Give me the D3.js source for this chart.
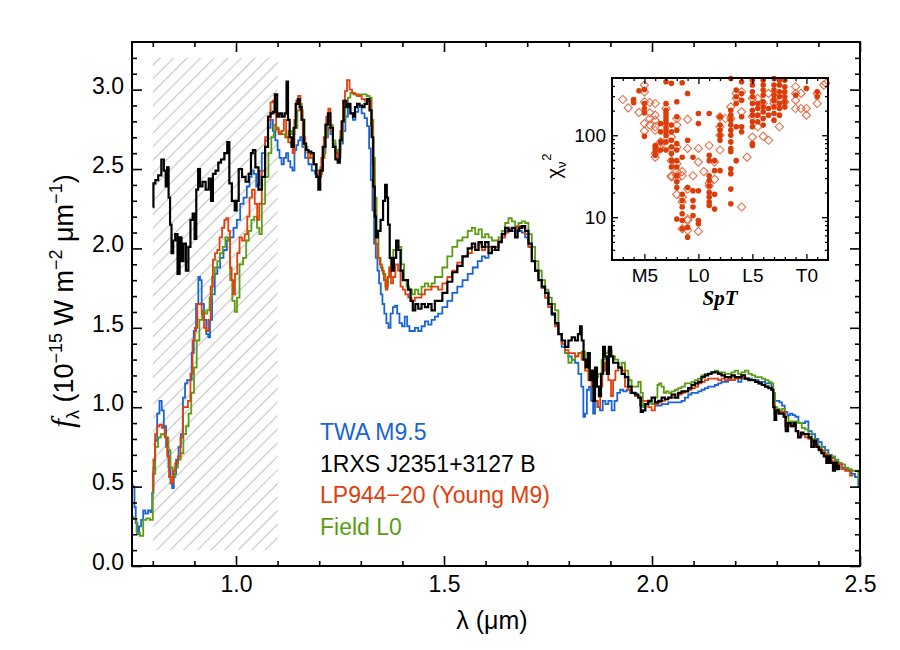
<!DOCTYPE html>
<html><head><meta charset="utf-8">
<script src="https://cdn.jsdelivr.net/npm/d3@7"></script>
<style>body{margin:0;background:#fff}svg{display:block}</style>
</head><body><svg id="c" width="900" height="650"></svg>
<script>
// ---------------- DATA ----------------
const xDomain = [0.75, 2.5];
const yDomain = [0, 3.3];
const xMajorTicks = [1.0, 1.5, 2.0, 2.5];
const yMajorTicks = [0.0, 0.5, 1.0, 1.5, 2.0, 2.5, 3.0];
const hatchX = [0.8, 1.1];
const hatchY = [0.1, 3.2];

const seriesNames = ["TWA M9.5", "1RXS J2351+3127 B", "LP944\u221220 (Young M9)", "Field L0"];
const seriesColors = ["#1a64d4", "#000000", "#e0400c", "#5a9c12"];

const twaM95 = [[0.749,0.51],[0.755,0.50],[0.757,0.37],[0.761,0.27],[0.765,0.20],[0.769,0.25],[0.775,0.29],[0.779,0.35],[0.785,0.33],[0.792,0.35],[0.797,0.34],[0.800,0.46],[0.803,0.62],[0.808,0.79],[0.813,0.96],[0.819,1.04],[0.824,0.98],[0.829,0.88],[0.835,0.75],[0.840,0.62],[0.845,0.52],[0.848,0.49],[0.853,0.58],[0.859,0.67],[0.865,0.75],[0.870,0.83],[0.875,1.06],[0.880,1.15],[0.885,1.17],[0.891,1.17],[0.896,1.34],[0.901,1.48],[0.907,1.65],[0.912,1.82],[0.915,1.80],[0.920,1.65],[0.926,1.55],[0.931,1.46],[0.936,1.44],[0.939,1.55],[0.946,1.71],[0.952,1.84],[0.958,1.88],[0.966,1.94],[0.974,1.99],[0.982,2.05],[0.990,2.07],[0.998,2.13],[1.006,2.18],[1.014,2.28],[1.022,2.32],[1.030,2.39],[1.035,2.45],[1.040,2.49],[1.046,2.47],[1.051,2.39],[1.055,2.40],
[1.058,2.49],[1.066,2.60],[1.074,2.68],[1.080,2.76],[1.086,2.81],[1.091,2.74],[1.098,2.68],[1.102,2.62],[1.107,2.57],[1.112,2.53],[1.118,2.57],[1.123,2.60],[1.128,2.55],[1.133,2.51],[1.138,2.49],[1.143,2.62],[1.147,2.65],[1.152,2.68],[1.157,2.70],[1.162,2.64],[1.170,2.57],[1.178,2.53],[1.186,2.49],[1.194,2.47],[1.200,2.45],[1.206,2.51],[1.212,2.60],[1.218,2.70],[1.224,2.76],[1.230,2.72],[1.236,2.66],[1.242,2.60],[1.248,2.57],[1.254,2.66],[1.260,2.74],[1.266,2.83],[1.272,2.89],[1.278,2.85],[1.284,2.81],[1.290,2.86],[1.298,2.89],[1.306,2.85],[1.312,2.82],[1.318,2.77],[1.322,2.63],[1.326,2.43],[1.330,2.24],[1.334,2.03],[1.338,1.94],[1.342,1.86],[1.346,1.78],[1.350,1.71],[1.354,1.65],[1.359,1.59],[1.364,1.53],[1.369,1.50],[1.374,1.59],[1.380,1.63],[1.385,1.64],[1.390,1.59],[1.396,1.53],[1.402,1.51],[1.409,1.57],[1.414,1.51],[1.420,1.48],[1.426,1.48],[1.434,1.50],[1.442,1.48],[1.450,1.51],[1.458,1.54],[1.466,1.52],[1.474,1.55],[1.482,1.57],
[1.490,1.59],[1.502,1.63],[1.514,1.67],[1.526,1.72],[1.538,1.76],[1.551,1.80],[1.563,1.84],[1.575,1.88],[1.587,1.92],[1.595,1.95],[1.603,1.94],[1.611,1.97],[1.619,1.99],[1.627,2.01],[1.635,2.04],[1.643,2.07],[1.651,2.11],[1.659,2.12],[1.667,2.11],[1.675,2.12],[1.683,2.11],[1.691,2.10],[1.699,2.07],[1.707,2.01],[1.715,1.92],[1.723,1.86],[1.731,1.80],[1.739,1.75],[1.747,1.69],[1.755,1.63],[1.763,1.58],[1.771,1.52],[1.779,1.46],[1.787,1.38],[1.795,1.34],[1.803,1.32],[1.811,1.30],[1.819,1.28],[1.827,1.21],[1.833,1.13],[1.837,0.94],[1.841,0.96],[1.846,1.11],[1.851,1.13],[1.856,1.04],[1.861,0.96],[1.865,1.04],[1.872,1.00],[1.878,0.98],[1.885,1.04],[1.891,1.02],[1.899,1.04],[1.907,0.98],[1.913,1.04],[1.920,1.09],[1.927,1.11],[1.935,1.10],[1.943,1.11],[1.951,1.09],[1.959,1.09],[1.967,1.07],
[1.975,1.01],[1.987,1.02],[1.995,1.03],[2.003,1.02],[2.011,1.01],[2.019,1.01],[2.027,1.02],[2.035,1.02],[2.043,1.03],[2.051,1.03],[2.059,1.03],[2.067,1.03],[2.075,1.04],[2.083,1.06],[2.091,1.08],[2.099,1.09],[2.107,1.09],[2.115,1.10],[2.123,1.11],[2.131,1.12],[2.139,1.13],[2.147,1.13],[2.155,1.14],[2.163,1.15],[2.171,1.16],[2.179,1.16],[2.187,1.17],[2.195,1.17],[2.203,1.19],[2.211,1.16],[2.219,1.18],[2.228,1.18],[2.236,1.18],[2.244,1.17],[2.252,1.17],[2.260,1.16],[2.268,1.16],[2.276,1.15],[2.284,1.15],[2.290,1.13],[2.293,1.09],[2.298,1.04],[2.304,1.04],[2.309,1.03],[2.316,1.01],[2.322,0.97],[2.329,0.95],[2.335,0.96],[2.341,0.95],[2.348,0.94],[2.356,0.90],[2.364,0.90],[2.372,0.91],[2.380,0.85],[2.388,0.83],[2.396,0.80],[2.404,0.78],[2.412,0.75],[2.420,0.73],[2.428,0.70],[2.436,0.68],[2.444,0.66],[2.452,0.65],[2.460,0.62],[2.468,0.61],[2.476,0.60],[2.484,0.58],[2.492,0.56],[2.500,0.50]];

const rxsJ2351 = [[0.800,2.26],[0.803,2.41],[0.809,2.43],[0.817,2.46],[0.824,2.56],[0.829,2.49],[0.833,2.39],[0.836,2.51],[0.840,2.32],[0.843,2.15],[0.847,1.97],[0.851,2.05],[0.857,2.09],[0.862,1.84],[0.867,2.07],[0.871,1.92],[0.876,2.03],[0.883,1.86],[0.888,2.01],[0.893,2.18],[0.899,2.22],[0.902,2.06],[0.907,2.37],[0.911,2.50],[0.916,2.39],[0.923,2.42],[0.931,2.37],[0.938,2.44],[0.942,2.30],[0.947,2.47],[0.955,2.49],[0.960,2.54],[0.968,2.56],[0.976,2.60],[0.982,2.67],[0.986,2.41],[0.994,2.30],[1.000,2.24],[1.003,2.30],[1.010,2.50],[1.019,2.45],[1.027,2.42],[1.034,2.47],[1.038,2.60],[1.043,2.62],[1.050,2.51],
[1.058,2.37],[1.066,2.45],[1.074,2.64],[1.080,2.83],[1.086,2.85],[1.091,2.86],[1.096,2.97],[1.102,2.83],[1.107,2.85],[1.114,2.83],[1.120,2.85],[1.123,3.05],[1.127,2.81],[1.131,2.70],[1.136,2.64],[1.141,2.76],[1.146,2.91],[1.151,2.94],[1.155,2.89],[1.160,2.81],[1.166,2.66],[1.171,2.62],[1.178,2.61],[1.184,2.60],[1.190,2.53],[1.196,2.45],[1.200,2.37],[1.205,2.49],[1.212,2.64],[1.218,2.78],[1.224,2.85],[1.230,2.76],[1.236,2.64],[1.242,2.56],[1.247,2.54],[1.252,2.68],[1.256,2.80],[1.262,2.93],[1.268,2.89],[1.272,2.91],[1.278,2.85],[1.284,2.83],[1.288,2.89],[1.294,2.91],[1.300,2.90],[1.306,2.89],[1.312,2.91],[1.318,2.94],[1.324,2.87],[1.328,2.70],[1.332,2.39],[1.335,2.20],[1.338,2.07],[1.344,2.11],[1.351,2.18],[1.356,2.30],[1.361,2.40],[1.364,2.32],[1.367,2.15],[1.372,1.94],[1.377,1.86],[1.382,1.94],[1.388,2.05],[1.393,1.99],[1.398,1.86],[1.404,1.80],[1.410,1.80],[1.417,1.74],[1.422,1.67],[1.428,1.61],[1.434,1.65],[1.442,1.62],[1.450,1.65],[1.458,1.63],[1.466,1.65],[1.474,1.61],[1.482,1.67],
[1.490,1.67],[1.502,1.72],[1.514,1.79],[1.526,1.85],[1.538,1.89],[1.551,1.95],[1.563,2.00],[1.571,2.03],[1.579,1.99],[1.587,2.04],[1.595,2.01],[1.603,2.04],[1.611,1.97],[1.619,2.01],[1.627,1.99],[1.635,2.04],[1.643,2.09],[1.651,2.13],[1.659,2.11],[1.667,2.13],[1.675,2.07],[1.679,2.11],[1.683,2.13],[1.691,2.14],[1.699,2.11],[1.707,2.03],[1.715,1.92],[1.723,1.86],[1.731,1.80],[1.739,1.76],[1.747,1.72],[1.755,1.65],[1.763,1.59],[1.771,1.53],[1.779,1.46],[1.787,1.42],[1.795,1.38],[1.803,1.42],[1.811,1.44],[1.819,1.42],[1.825,1.46],[1.829,1.51],[1.833,1.42],[1.838,1.30],[1.843,1.25],[1.848,1.34],[1.853,1.17],[1.857,1.23],[1.861,1.04],[1.865,1.25],[1.870,1.13],[1.875,1.07],[1.880,1.21],[1.885,1.38],[1.889,1.32],[1.894,1.21],[1.899,1.38],[1.904,1.32],[1.909,1.28],[1.915,1.28],[1.923,1.25],[1.931,1.21],[1.939,1.19],[1.947,1.13],[1.955,1.09],[1.963,1.08],
[1.971,1.06],[1.975,0.97],[1.981,0.98],[1.987,1.02],[1.995,1.04],[2.003,1.06],[2.011,1.03],[2.019,1.04],[2.027,1.06],[2.035,1.05],[2.043,1.06],[2.051,1.08],[2.059,1.06],[2.067,1.09],[2.075,1.10],[2.083,1.10],[2.091,1.12],[2.099,1.14],[2.107,1.15],[2.115,1.16],[2.123,1.19],[2.131,1.20],[2.139,1.21],[2.147,1.22],[2.155,1.22],[2.163,1.21],[2.171,1.20],[2.179,1.19],[2.187,1.19],[2.195,1.20],[2.203,1.19],[2.211,1.19],[2.219,1.20],[2.228,1.18],[2.236,1.17],[2.244,1.17],[2.252,1.16],[2.260,1.15],[2.268,1.14],[2.276,1.13],[2.284,1.12],[2.290,1.11],[2.293,1.00],[2.296,0.92],[2.301,0.98],[2.308,0.96],[2.314,0.96],[2.319,0.94],[2.324,0.85],[2.330,0.90],[2.337,0.88],[2.343,0.90],[2.348,0.85],[2.354,0.81],[2.361,0.84],[2.367,0.83],[2.373,0.83],[2.380,0.81],[2.386,0.75],[2.392,0.79],[2.398,0.75],[2.404,0.73],[2.410,0.71],[2.416,0.69],[2.422,0.65],[2.426,0.69],[2.432,0.65],[2.438,0.60],[2.442,0.65],[2.448,0.61],[2.452,0.63]];

const lp944 = [[0.800,0.48],[0.803,0.67],[0.808,0.83],[0.813,0.88],[0.819,0.89],[0.825,0.87],[0.832,0.81],[0.837,0.69],[0.841,0.56],[0.846,0.52],[0.851,0.60],[0.857,0.65],[0.864,0.69],[0.869,0.81],[0.875,1.00],[0.881,1.00],[0.888,1.04],[0.893,1.21],[0.898,1.42],[0.904,1.50],[0.910,1.65],[0.915,1.65],[0.920,1.59],[0.926,1.50],[0.931,1.48],[0.936,1.55],[0.942,1.76],[0.947,1.93],[0.952,1.97],[0.958,1.99],[0.963,2.07],[0.970,2.13],[0.974,2.18],[0.979,2.19],[0.984,2.11],[0.987,1.88],[0.992,1.80],[0.995,1.71],[1.000,1.84],[1.006,1.97],[1.011,2.07],[1.018,2.05],[1.024,2.09],[1.030,2.20],[1.035,2.32],[1.042,2.37],[1.048,2.28],[1.054,2.18],
[1.058,2.28],[1.066,2.49],[1.074,2.70],[1.080,2.81],[1.086,2.92],[1.090,2.93],[1.094,2.85],[1.099,2.75],[1.106,2.72],[1.112,2.74],[1.118,2.81],[1.123,2.70],[1.128,2.67],[1.134,2.66],[1.138,2.60],[1.143,2.81],[1.147,2.93],[1.152,2.96],[1.158,2.87],[1.163,2.70],[1.170,2.62],[1.176,2.57],[1.183,2.60],[1.189,2.53],[1.196,2.49],[1.202,2.45],[1.208,2.57],[1.214,2.70],[1.220,2.83],[1.224,2.88],[1.230,2.74],[1.236,2.64],[1.242,2.57],[1.248,2.60],[1.254,2.74],[1.260,2.93],[1.264,2.99],[1.270,3.06],[1.276,3.00],[1.282,2.98],[1.290,2.97],[1.298,2.96],[1.306,2.94],[1.314,2.93],[1.322,2.93],[1.327,2.78],[1.330,2.53],[1.334,2.24],[1.338,2.03],[1.343,1.94],[1.348,1.90],[1.353,1.86],[1.358,1.80],[1.362,1.74],[1.366,1.82],[1.370,1.88],[1.375,1.78],[1.380,1.82],[1.386,1.90],[1.393,1.86],[1.398,1.76],[1.404,1.74],[1.410,1.71],[1.418,1.69],[1.426,1.67],[1.434,1.69],[1.442,1.69],[1.450,1.71],[1.458,1.74],[1.466,1.74],[1.474,1.76],[1.482,1.76],
[1.490,1.74],[1.502,1.78],[1.514,1.82],[1.526,1.86],[1.538,1.91],[1.551,1.95],[1.563,1.97],[1.571,2.01],[1.579,1.99],[1.587,2.03],[1.595,1.99],[1.603,2.01],[1.611,2.01],[1.619,1.99],[1.627,2.01],[1.635,2.05],[1.643,2.07],[1.651,2.10],[1.659,2.12],[1.667,2.13],[1.675,2.13],[1.683,2.14],[1.691,2.13],[1.699,2.09],[1.707,2.01],[1.715,1.92],[1.723,1.86],[1.731,1.80],[1.739,1.75],[1.747,1.69],[1.755,1.63],[1.763,1.59],[1.771,1.51],[1.779,1.46],[1.787,1.40],[1.795,1.36],[1.803,1.34],[1.811,1.34],[1.819,1.32],[1.827,1.34],[1.835,1.30],[1.843,1.23],[1.851,1.17],[1.859,1.13],[1.867,1.04],[1.873,1.00],[1.878,1.13],[1.883,1.23],[1.891,1.28],[1.899,1.17],[1.904,1.07],[1.909,1.17],[1.915,1.23],[1.923,1.25],[1.931,1.23],[1.939,1.13],[1.947,1.11],[1.955,1.09],[1.963,1.07],
[1.971,1.06],[1.979,1.04],[1.987,1.04],[1.995,1.00],[2.003,0.98],[2.011,1.02],[2.019,1.03],[2.027,1.04],[2.035,1.05],[2.043,1.06],[2.051,1.06],[2.059,1.08],[2.067,1.08],[2.075,1.09],[2.083,1.10],[2.091,1.11],[2.099,1.12],[2.107,1.13],[2.115,1.15],[2.123,1.16],[2.131,1.17],[2.139,1.18],[2.147,1.18],[2.155,1.18],[2.163,1.17],[2.171,1.18],[2.179,1.17],[2.187,1.18],[2.195,1.17],[2.203,1.18],[2.211,1.18],[2.219,1.19],[2.228,1.18],[2.236,1.17],[2.244,1.17],[2.252,1.16],[2.260,1.15],[2.268,1.14],[2.276,1.13],[2.284,1.12],[2.290,1.11],[2.293,1.02],[2.296,0.96],[2.301,0.98],[2.308,0.97],[2.316,0.97],[2.324,0.88],[2.330,0.89],[2.337,0.88],[2.343,0.89],[2.349,0.85],[2.356,0.82],[2.364,0.83],[2.372,0.81],[2.380,0.80],[2.388,0.78],[2.396,0.76],[2.404,0.74],[2.412,0.72],[2.420,0.70],[2.428,0.68],[2.436,0.66],[2.444,0.65],[2.452,0.64],[2.460,0.61],[2.468,0.60],[2.484,0.57]];

const fieldL0 = [[0.749,0.31],[0.757,0.30],[0.765,0.21],[0.773,0.19],[0.781,0.29],[0.789,0.30],[0.797,0.29],[0.803,0.58],[0.809,0.75],[0.816,0.81],[0.822,0.83],[0.829,0.83],[0.835,0.81],[0.840,0.73],[0.845,0.62],[0.851,0.56],[0.857,0.62],[0.864,0.67],[0.870,0.71],[0.877,0.83],[0.883,0.88],[0.889,0.96],[0.896,1.09],[0.902,1.25],[0.909,1.42],[0.915,1.55],[0.922,1.61],[0.928,1.59],[0.934,1.61],[0.939,1.69],[0.946,1.82],[0.952,1.88],[0.958,1.92],[0.965,1.97],[0.971,2.01],[0.978,2.07],[0.984,2.05],[0.988,1.80],[0.994,1.67],[1.000,1.60],[1.005,1.69],[1.012,1.90],[1.022,1.94],[1.027,2.05],[1.034,2.11],[1.040,2.18],[1.047,2.20],[1.054,2.13],
[1.058,2.09],[1.066,2.28],[1.074,2.45],[1.082,2.60],[1.088,2.70],[1.094,2.78],[1.099,2.76],[1.106,2.73],[1.114,2.72],[1.122,2.70],[1.130,2.74],[1.138,2.72],[1.144,2.76],[1.151,2.87],[1.155,2.91],[1.162,2.81],[1.168,2.64],[1.175,2.60],[1.182,2.57],[1.190,2.53],[1.198,2.49],[1.204,2.47],[1.210,2.57],[1.216,2.70],[1.223,2.81],[1.229,2.78],[1.236,2.68],[1.242,2.60],[1.248,2.62],[1.254,2.70],[1.260,2.81],[1.266,2.89],[1.272,2.95],[1.278,2.98],[1.286,2.97],[1.294,2.96],[1.302,2.97],[1.310,2.97],[1.318,2.96],[1.324,2.95],[1.328,2.81],[1.332,2.57],[1.336,2.32],[1.340,2.11],[1.345,1.94],[1.350,1.88],[1.356,1.84],[1.362,1.76],[1.369,1.82],[1.375,1.94],[1.381,1.99],[1.388,2.01],[1.394,2.01],[1.401,1.90],[1.407,1.80],[1.413,1.76],[1.420,1.74],[1.426,1.71],[1.434,1.74],[1.442,1.71],[1.450,1.76],[1.458,1.78],[1.466,1.76],[1.474,1.78],[1.482,1.82],
[1.490,1.82],[1.502,1.88],[1.514,1.95],[1.526,2.01],[1.538,2.05],[1.551,2.07],[1.563,2.11],[1.571,2.13],[1.579,2.09],[1.587,2.12],[1.595,2.07],[1.603,2.09],[1.611,2.07],[1.619,2.05],[1.627,2.05],[1.635,2.07],[1.643,2.11],[1.651,2.16],[1.659,2.19],[1.667,2.17],[1.675,2.14],[1.683,2.16],[1.691,2.17],[1.699,2.16],[1.707,2.09],[1.715,2.01],[1.723,1.92],[1.731,1.86],[1.739,1.80],[1.747,1.74],[1.755,1.69],[1.763,1.65],[1.771,1.61],[1.779,1.46],[1.787,1.40],[1.795,1.34],[1.803,1.28],[1.811,1.30],[1.819,1.32],[1.827,1.34],[1.835,1.35],[1.843,1.28],[1.851,1.23],[1.859,1.19],[1.867,1.19],[1.875,1.21],[1.883,1.30],[1.891,1.34],[1.899,1.36],[1.907,1.32],[1.915,1.30],[1.923,1.25],[1.931,1.28],[1.939,1.23],[1.947,1.17],[1.955,1.13],[1.963,1.13],
[1.971,1.16],[1.975,1.09],[1.981,1.00],[1.987,1.02],[1.995,1.04],[2.003,1.02],[2.011,1.06],[2.015,1.14],[2.019,1.15],[2.026,1.13],[2.031,1.09],[2.037,1.10],[2.043,1.09],[2.051,1.10],[2.059,1.11],[2.067,1.12],[2.075,1.13],[2.083,1.15],[2.091,1.15],[2.099,1.16],[2.107,1.17],[2.115,1.18],[2.123,1.20],[2.131,1.21],[2.139,1.21],[2.147,1.22],[2.155,1.23],[2.163,1.22],[2.171,1.22],[2.179,1.21],[2.187,1.21],[2.195,1.22],[2.203,1.23],[2.211,1.21],[2.219,1.22],[2.228,1.23],[2.236,1.21],[2.244,1.20],[2.252,1.19],[2.260,1.19],[2.268,1.18],[2.276,1.17],[2.284,1.16],[2.290,1.15],[2.293,1.09],[2.298,1.00],[2.304,0.99],[2.309,0.98],[2.316,0.99],[2.324,0.94],[2.332,0.91],[2.340,0.91],[2.348,0.91],[2.356,0.90],[2.364,0.87],[2.372,0.86],[2.380,0.83],[2.388,0.80],[2.396,0.77],[2.404,0.75],[2.412,0.73],[2.420,0.71],[2.428,0.69],[2.436,0.69],[2.444,0.67],[2.452,0.65],[2.460,0.64],[2.468,0.62],[2.476,0.61],[2.484,0.60],[2.492,0.60],[2.500,0.54]];

// Inset: spectral type (M0=10, L0=20, T0=30) vs reduced chi^2
const insetXDomain = [12, 32];
const insetYDomain = [3, 500];
const insetXTicks = [15, 20, 25, 30];
const insetXTickLabels = ["M5", "L0", "L5", "T0"];
const insetYTicks = [10, 100];
const fitFilled = [[14,273],[14,249],[14.5,349],[15,362],[15,244],[15,212],[15,188],[15,97],[16,75],[16,69],[16,63],[16,57],[16.5,139],[16.5,110],[16.5,83],[16.5,66],[17,450],[17,244],[17,202],[17,184],[17,168],[17,153],[17,139],[17,121],[17,110],[17,100],[17,83],[17,66],[17.5,430],[17.5,133],[17.5,110],[17.5,87],[17.5,72],[17.5,60],[17.5,49],[17.5,41],[18,256],[18,168],[18,115],[18,79],[18,66],[18,49],[18,41],[18,32],[18,27],[18,23],[18,9.5],[18.5,437],[18.5,54],[18.5,19],[18.5,16],[18.5,13.3],[18.5,11],[18.5,9.1],[18.5,7.2],[19,324],[19,87],[19,23],[19,7.5],[19,5.7],[19.5,54],[19.5,21],[19.5,16],[19.5,13.3],[19.5,10.5],[20,184],[20,139],[20,21],[20,9.1],[20,8.3],[21,184],[21,57],[21,49],[21,32],[21,28],[21,24],[21,20],[21,17.6],[21,15.3],[21,13.9],[21.5,49],[21.5,37],[21.5,19],[21.5,12.6],[22,168],[22,133],[22,115],[22,100],[22,87],[22,37],[23,494],[23,202],[23,176],[23,153],[23,133],[23,115],[23,100],[23,83],[23,69],[23,63],[23,39],[23,34],[23,22],[23,14.6],[23.5,356],[23.5,295],[23.5,244],[23.5,127],[23.5,49],[24,450],[24,324],[24,268],[24,168],[24,127],[24,110],[25,471],[25,410],[25,339],[25,295],[25,244],[25,202],[25,176],[25,146],[25,127],[25,79],[25,75],[25.5,244],[25.5,212],[25.5,176],[25.5,146],[26,471],[26,410],[26,356],[26,309],[26,256],[26,222],[26,193],[26,160],[26,133],[26.5,212],[26.5,176],[27,494],[27,410],[27,356],[27,309],[27,268],[27,222],[27,184],[27,153],[27.5,471],[27.5,410],[27.5,339],[27.5,295],[27.5,244],[27.5,212],[27.5,176],[28,471],[28,391],[28,339],[28,295],[28,256],[28,222],[29,309],[30,373],[31,339],[31,295]];
const fitOpen = [[13,273],[13.5,216],[15,410],[15,339],[14.5,190],[15,256],[15.5,251],[15,139],[15,113],[15.5,188],[15.5,160],[16,244],[15.5,133],[16,176],[16,153],[16,127],[16,115],[16,60],[16,54],[16.5,83],[16.5,75],[16.5,69],[17,212],[17,133],[17,87],[17.5,95],[17.5,69],[17.5,49],[17.5,32],[17.5,31],[18,160],[18,133],[18,72],[18,45],[18,36],[18,32],[18,29],[18,19],[18.5,36],[18.5,32],[18.5,17.6],[18.5,15.3],[18.5,7.2],[19,156],[19,69],[19,22],[19,9.5],[19,9.1],[19,6.9],[19.5,32],[20,69],[20,47],[20,6.7],[20.5,36],[21,75],[21,26],[21,24],[21.5,47],[21.5,29],[22,168],[22,127],[22,100],[22,66],[22.5,160],[23,222],[23,160],[23.5,281],[23.5,324],[24,339],[24,193],[24,13.3],[24.5,54],[25,281],[25,168],[25,95],[25.5,281],[25.5,127],[26,244],[26,176],[26,97],[26.5,324],[26.5,87],[27,268],[27,244],[27.5,324],[27.5,127],[28,256],[29,391],[29,324],[29,268],[29,212],[29.5,324],[29.5,212],[30,212],[30,176],[31,324],[31,244],[31.6,410],[31.8,430]];

// ---------------- DRAW ----------------
const svg = d3.select("#c");
const P = {l:132, r:860, t:42, b:566};
const x = d3.scaleLinear().domain(xDomain).range([P.l, P.r]);
const y = d3.scaleLinear().domain(yDomain).range([P.b, P.t]);
const SANS = "'Liberation Sans', Arial, Helvetica, sans-serif";
const SERIF = "'Liberation Serif', 'Times New Roman', serif";

const defs = svg.append("defs");
defs.append("clipPath").attr("id","plotclip").append("rect")
  .attr("x",P.l).attr("y",P.t).attr("width",P.r-P.l).attr("height",P.b-P.t);
const pat = defs.append("pattern").attr("id","hatch").attr("patternUnits","userSpaceOnUse")
  .attr("width",9.6).attr("height",9.6).attr("patternTransform","rotate(45)");
pat.append("line").attr("x1",0).attr("y1",0).attr("x2",0).attr("y2",9.6)
  .attr("stroke","#c4c4c4").attr("stroke-width",2.2);

// hatched region
svg.append("rect").attr("x",x(hatchX[0])).attr("y",y(hatchY[1]))
  .attr("width",x(hatchX[1])-x(hatchX[0])).attr("height",y(hatchY[0])-y(hatchY[1]))
  .attr("fill","url(#hatch)");

// spectra
const line = d3.line().x(d=>x(d[0])).y(d=>y(d[1])).curve(d3.curveStep);
const gS = svg.append("g").attr("clip-path","url(#plotclip)");
const drawOrder = [[twaM95,0,1.8],[fieldL0,3,1.8],[lp944,2,1.8],[rxsJ2351,1,2.2]];
drawOrder.forEach(([data,i,w])=>{
  gS.append("path").datum(data).attr("d",line).attr("fill","none")
    .attr("stroke",seriesColors[i]).attr("stroke-width",w).attr("stroke-linejoin","miter");
});

// axes (ticks inward on all four sides)
function styleAxis(g){ g.select(".domain").remove(); g.selectAll("line").attr("stroke","#000").attr("stroke-width",1.6); g.selectAll("text").attr("font-family",SANS).attr("font-size",23).attr("fill","#000"); }
const xMinor = d3.range(0.8, 2.5001, 0.1).filter(v=>!xMajorTicks.some(t=>Math.abs(t-v)<1e-6));
const yMinor = d3.range(0.1, 3.2501, 0.1).filter(v=>!yMajorTicks.some(t=>Math.abs(t-v)<1e-6));
svg.append("g").attr("transform",`translate(0,${P.b})`)
  .call(d3.axisBottom(x).tickValues(xMajorTicks).tickSizeInner(-10).tickSizeOuter(0).tickPadding(10).tickFormat(d3.format(".1f"))).call(styleAxis);
svg.append("g").attr("transform",`translate(0,${P.b})`)
  .call(d3.axisBottom(x).tickValues(xMinor).tickSizeInner(-5).tickSizeOuter(0).tickFormat("")).call(styleAxis);
svg.append("g").attr("transform",`translate(0,${P.t})`)
  .call(d3.axisTop(x).tickValues(xMajorTicks).tickSizeInner(-10).tickSizeOuter(0).tickFormat("")).call(styleAxis);
svg.append("g").attr("transform",`translate(0,${P.t})`)
  .call(d3.axisTop(x).tickValues(xMinor).tickSizeInner(-5).tickSizeOuter(0).tickFormat("")).call(styleAxis);
const yAx = svg.append("g").attr("transform",`translate(${P.l},0)`)
  .call(d3.axisLeft(y).tickValues(yMajorTicks).tickSizeInner(-10).tickSizeOuter(0).tickPadding(8).tickFormat(d3.format(".1f"))).call(styleAxis);
yAx.selectAll("text").attr("y",-4);
svg.append("g").attr("transform",`translate(${P.l},0)`)
  .call(d3.axisLeft(y).tickValues(yMinor).tickSizeInner(-5).tickSizeOuter(0).tickFormat("")).call(styleAxis);
svg.append("g").attr("transform",`translate(${P.r},0)`)
  .call(d3.axisRight(y).tickValues(yMajorTicks).tickSizeInner(-10).tickSizeOuter(0).tickFormat("")).call(styleAxis);
svg.append("g").attr("transform",`translate(${P.r},0)`)
  .call(d3.axisRight(y).tickValues(yMinor).tickSizeInner(-5).tickSizeOuter(0).tickFormat("")).call(styleAxis);

svg.append("rect").attr("x",P.l).attr("y",P.t).attr("width",P.r-P.l).attr("height",P.b-P.t)
  .attr("fill","none").attr("stroke","#000").attr("stroke-width",2);

// axis titles
svg.append("text").attr("x",(P.l+P.r)/2 - 4).attr("y",629).attr("text-anchor","middle")
  .attr("font-family",SANS).attr("font-size",25).text("\u03bb (\u03bcm)");
const yt = svg.append("text").attr("transform",`translate(73,301) rotate(-90)`)
  .attr("text-anchor","middle").attr("font-family",SANS).attr("font-size",27);
yt.append("tspan").attr("font-family",SERIF).attr("font-style","italic").attr("font-size",31).text("f");
yt.append("tspan").attr("font-size",18).attr("dy",6).text("\u03bb");
yt.append("tspan").attr("dy",-6).text(" (10");
yt.append("tspan").attr("font-size",18).attr("dy",-11).text("\u221215");
yt.append("tspan").attr("dy",11).text(" W m");
yt.append("tspan").attr("font-size",18).attr("dy",-11).text("\u22122");
yt.append("tspan").attr("dy",11).text(" \u03bcm");
yt.append("tspan").attr("font-size",18).attr("dy",-11).text("\u22121");
yt.append("tspan").attr("dy",11).text(")");

// legend
const legBaselines = [440, 472, 503, 535];
seriesNames.forEach((n,i)=>{
  svg.append("text").attr("x",320).attr("y",legBaselines[i]).attr("font-family",SANS)
    .attr("font-size",23).attr("fill",seriesColors[i]).text(n);
});

// ---------------- INSET ----------------
const I = {l:612, r:828, t:78, b:260};
const xi = d3.scaleLinear().domain(insetXDomain).range([I.l, I.r]);
const yi = d3.scaleLog().domain(insetYDomain).range([I.b, I.t]);
svg.append("rect").attr("x",I.l).attr("y",I.t).attr("width",I.r-I.l).attr("height",I.b-I.t).attr("fill","#fff");
const gI = svg.append("g");
const diamond = d3.symbol().type(d3.symbolSquare).size(34);
gI.selectAll("path.op").data(fitOpen).join("path").attr("class","op")
  .attr("d",diamond).attr("transform",d=>`translate(${xi(d[0])},${yi(d[1])}) rotate(45)`)
  .attr("fill","none").attr("stroke","#e8643c").attr("stroke-width",1);
gI.selectAll("circle").data(fitFilled).join("circle")
  .attr("cx",d=>xi(d[0])).attr("cy",d=>yi(d[1])).attr("r",2.8).attr("fill","#dc3c08");

function styleI(g){ g.select(".domain").remove(); g.selectAll("line").attr("stroke","#000").attr("stroke-width",1.3); g.selectAll("text").attr("font-family",SANS).attr("font-size",19).attr("fill","#000"); }
const xiMinor = d3.range(13, 32, 1).filter(v=>!insetXTicks.includes(v));
const yiMinor = [4,5,6,7,8,9,20,30,40,50,60,70,80,90,200,300,400];
svg.append("g").attr("transform",`translate(0,${I.b})`)
  .call(d3.axisBottom(xi).tickValues(insetXTicks).tickSizeInner(-6).tickSizeOuter(0).tickPadding(9).tickFormat((d,i)=>insetXTickLabels[i])).call(styleI);
svg.append("g").attr("transform",`translate(0,${I.b})`)
  .call(d3.axisBottom(xi).tickValues(xiMinor).tickSizeInner(-3).tickSizeOuter(0).tickFormat("")).call(styleI);
svg.append("g").attr("transform",`translate(0,${I.t})`)
  .call(d3.axisTop(xi).tickValues(insetXTicks).tickSizeInner(-6).tickSizeOuter(0).tickFormat("")).call(styleI);
svg.append("g").attr("transform",`translate(0,${I.t})`)
  .call(d3.axisTop(xi).tickValues(xiMinor).tickSizeInner(-3).tickSizeOuter(0).tickFormat("")).call(styleI);
svg.append("g").attr("transform",`translate(${I.l},0)`)
  .call(d3.axisLeft(yi).tickValues(insetYTicks).tickSizeInner(-6).tickSizeOuter(0).tickPadding(6).tickFormat(d3.format("d"))).call(styleI);
svg.append("g").attr("transform",`translate(${I.l},0)`)
  .call(d3.axisLeft(yi).tickValues(yiMinor).tickSizeInner(-3).tickSizeOuter(0).tickFormat("")).call(styleI);
svg.append("g").attr("transform",`translate(${I.r},0)`)
  .call(d3.axisRight(yi).tickValues(insetYTicks).tickSizeInner(-6).tickSizeOuter(0).tickFormat("")).call(styleI);
svg.append("g").attr("transform",`translate(${I.r},0)`)
  .call(d3.axisRight(yi).tickValues(yiMinor).tickSizeInner(-3).tickSizeOuter(0).tickFormat("")).call(styleI);
svg.append("rect").attr("x",I.l).attr("y",I.t).attr("width",I.r-I.l).attr("height",I.b-I.t)
  .attr("fill","none").attr("stroke","#000").attr("stroke-width",2);

svg.append("text").attr("x",(I.l+I.r)/2).attr("y",305).attr("text-anchor","middle")
  .attr("font-family",SERIF).attr("font-style","italic").attr("font-weight","bold").attr("font-size",21).text("SpT");
const ct = svg.append("text").attr("transform",`translate(561,166) rotate(-90)`)
  .attr("text-anchor","middle").attr("font-family",SANS).attr("font-size",20);
ct.append("tspan").text("\u03c7");
ct.append("tspan").attr("font-size",13).attr("dy",5).text("\u03bd");
ct.append("tspan").attr("font-size",13).attr("dy",-15).attr("dx",1).text("2");
</script></body></html>
